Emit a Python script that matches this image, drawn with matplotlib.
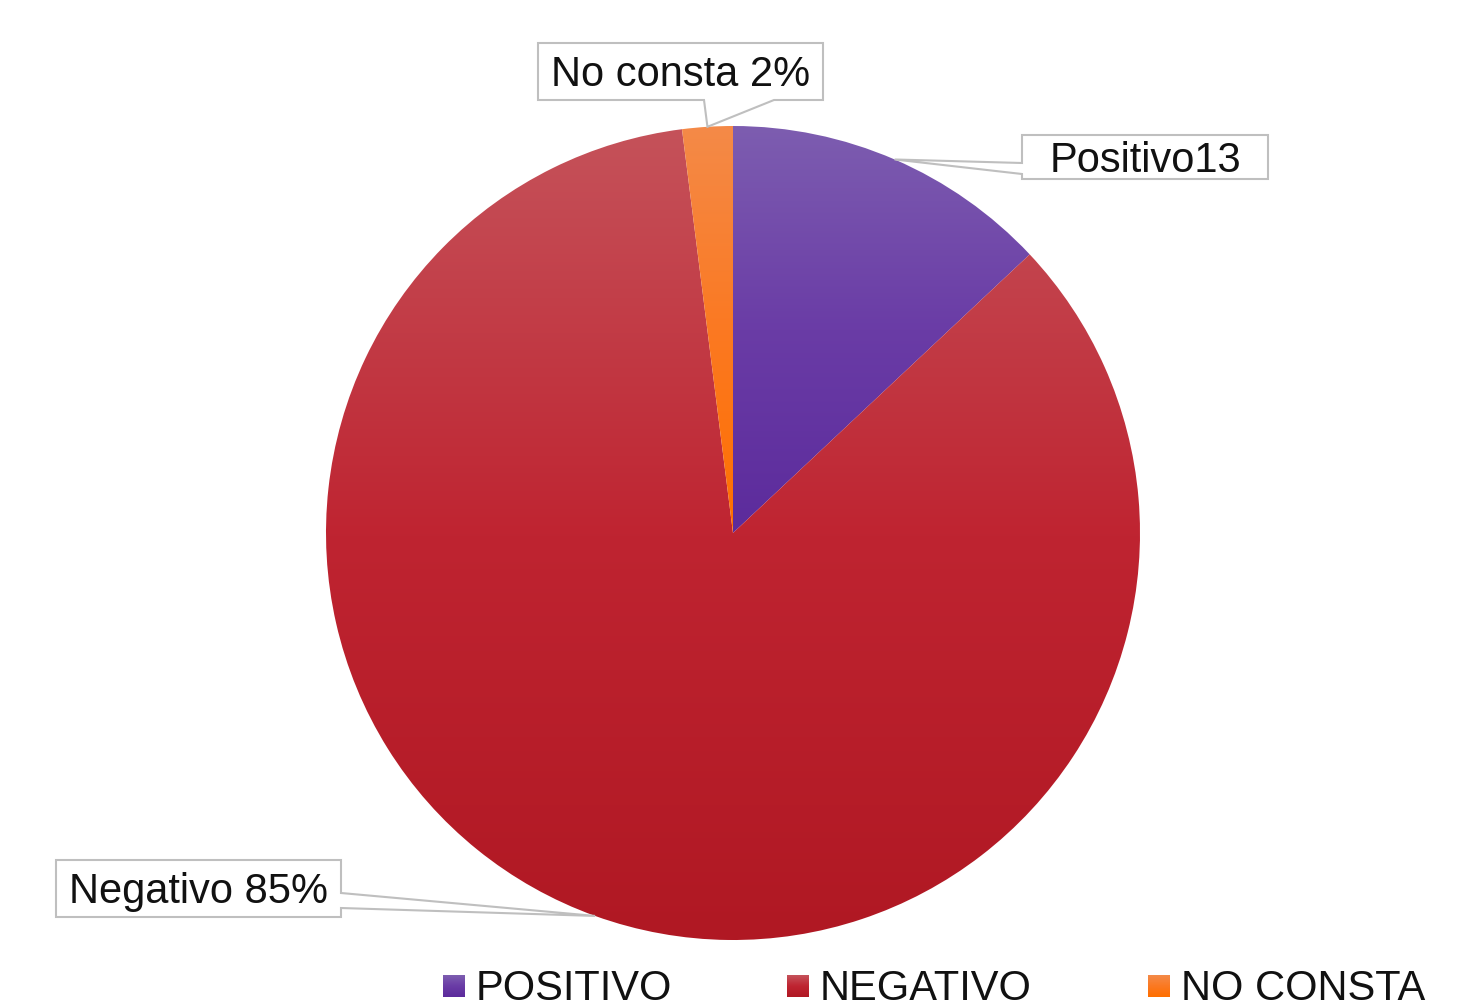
import numpy as np
import matplotlib
matplotlib.use("Agg")
import matplotlib.pyplot as plt
from matplotlib.patches import Polygon
from matplotlib.colors import to_rgb

# Data
categories = ["POSITIVO", "NEGATIVO", "NO CONSTA"]
values = [13, 85, 2]
label_texts = ["Positivo13", "Negativo 85%", "No consta 2%"]
top_colors = ["#7D5DB0", "#C5525A", "#F48A48"]
mid_colors = ["#6A3CA6", "#BF2431", "#FB7922"]
bottom_colors = ["#5C2B9C", "#B01823", "#FF6F00"]

W, H = 1484, 1008
fig = plt.figure(figsize=(W / 100, H / 100), dpi=100)
ax = fig.add_axes([0, 0, 1, 1])

FONT = ["Liberation Sans", "DejaVu Sans"]

cx, cy, R = 733, 533, 407


def vgrad(c_top, c_mid, c_bot, n=256):
    t = np.linspace(0, 1, n)
    stops = np.array([0.0, 0.5, 1.0])
    cols = np.array([to_rgb(c_top), to_rgb(c_mid), to_rgb(c_bot)])
    rgb = np.stack([np.interp(t, stops, cols[:, k]) for k in range(3)], axis=-1)
    return rgb[:, None, :]


# y axis runs downward, so a visual clockwise pie from 12 o'clock is drawn
# counterclockwise from -90 degrees in data space
wedges, _ = ax.pie(values, startangle=-90, counterclock=True,
                   center=(cx, cy), radius=R, frame=True,
                   wedgeprops=dict(linewidth=0))
ax.set_xlim(0, W)
ax.set_ylim(H, 0)

for w, ct, cm, cb in zip(wedges, top_colors, mid_colors, bottom_colors):
    w.set_facecolor("none")
    path = w.get_path()
    verts = w.get_patch_transform().transform(path.vertices)
    xmin, ymin = verts.min(axis=0)
    xmax, ymax = verts.max(axis=0)
    img = ax.imshow(vgrad(ct, cm, cb), origin="upper", aspect="auto",
                    extent=(xmin, xmax, ymax, ymin), interpolation="bilinear",
                    zorder=1)
    img.set_clip_path(w)

ax.set_xlim(0, W)
ax.set_ylim(H, 0)
ax.set_aspect("auto")
ax.axis("off")

# Rim points at the middle of each slice
total = sum(values)
cum = np.cumsum([0] + values)
tips = []
for i in range(len(values)):
    mid = (cum[i] + cum[i + 1]) / 2 / total
    ang = np.deg2rad(-90 + mid * 360)
    tips.append((cx + R * np.cos(ang), cy + R * np.sin(ang)))

EDGE = "#BFBFBF"


def callout(box, side, base, tip, text):
    x0, y0, x1, y1 = box
    if side == "bottom":
        v = [(x0, y0), (x1, y0), (x1, y1), (base[1], y1), tip, (base[0], y1), (x0, y1)]
    elif side == "left":
        v = [(x0, y0), (x1, y0), (x1, y1), (x0, y1), (x0, base[1]), tip, (x0, base[0])]
    else:
        v = [(x0, y0), (x1, y0), (x1, base[0]), tip, (x1, base[1]), (x1, y1), (x0, y1)]
    ax.add_patch(Polygon(v, closed=True, facecolor="white", edgecolor=EDGE,
                         linewidth=1.5, zorder=3))
    ax.text((x0 + x1) / 2, (y0 + y1) / 2 + 15, text, ha="center", va="baseline",
            fontsize=30, family=FONT, color="#111111", zorder=4)


callout((1022, 135, 1268, 179), "left", (163, 174), tips[0], label_texts[0])
callout((56, 860, 341, 917), "right", (893, 908), tips[1], label_texts[1])
callout((538, 43, 823, 100), "bottom", (704, 774), tips[2], label_texts[2])

# Legend
leg_x = [443, 787, 1148]
for x, name, ct, cm, cb in zip(leg_x, categories, top_colors, mid_colors, bottom_colors):
    ax.imshow(vgrad(ct, cm, cb, 32), origin="upper", aspect="auto",
              extent=(x, x + 22, 997, 975), zorder=2)
    ax.text(x + 33, 1000, name, ha="left", va="baseline", fontsize=30,
            family=FONT, color="#111111")

ax.set_xlim(0, W)
ax.set_ylim(H, 0)
ax.set_aspect("auto")

fig.savefig("out.png", dpi=100, facecolor="white")
